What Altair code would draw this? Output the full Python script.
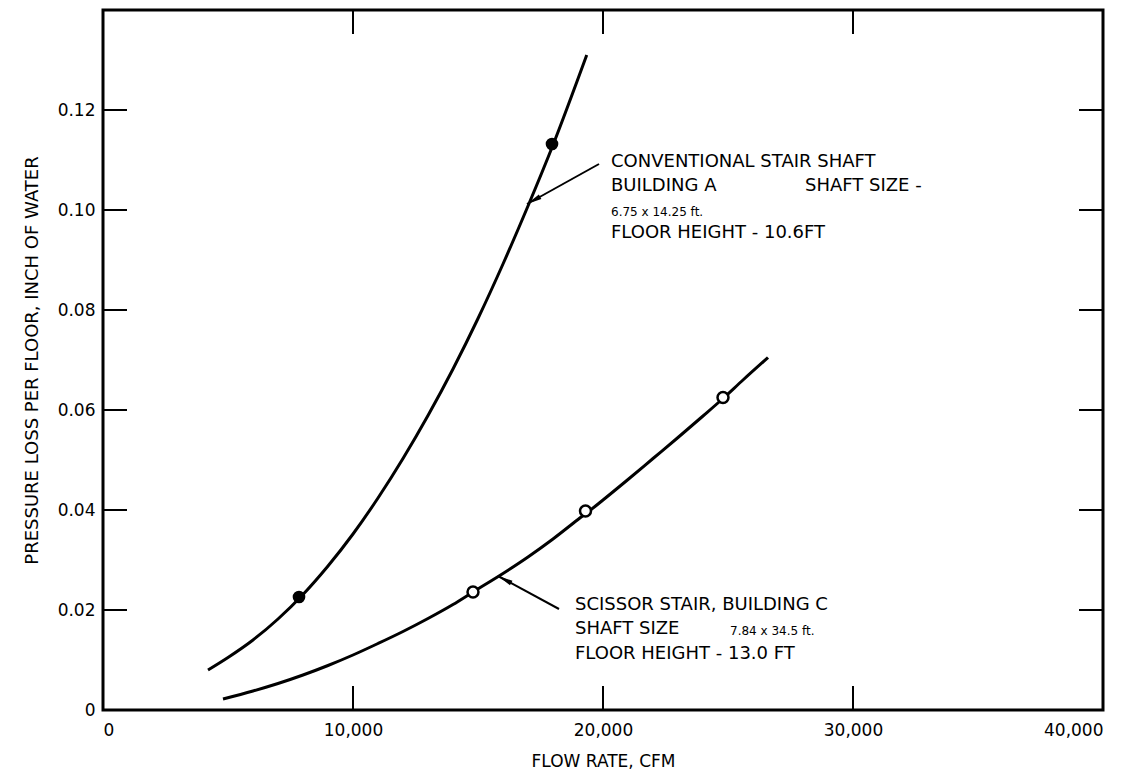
import altair as alt
import pandas as pd

# ---------------- data ----------------
# Conventional stair shaft, building A (curve)
conv_x = [4200, 5000, 6000, 7000, 8000, 9000, 10000, 11000, 12000, 13000,
          14000, 15000, 16000, 17000, 18000, 19350]
conv_y = [0.0080, 0.0105, 0.0140, 0.0182, 0.0231, 0.0288, 0.0352, 0.0424,
          0.0503, 0.0589, 0.0682, 0.0783, 0.0892, 0.1008, 0.1130, 0.1310]
# Conventional measured points (filled)
conv_pts_x = [7840, 17960]
conv_pts_y = [0.0226, 0.1132]

# Scissor stair, building C (curve)
sc_x = [4800, 6000, 7000, 8000, 9000, 10000, 11000, 12000, 13000, 14000,
        14800, 16000, 17000, 18000, 19000, 19500, 20000, 21000, 22000,
        23000, 24000, 24800, 25600, 26600]
sc_y = [0.0022, 0.0038, 0.0053, 0.0070, 0.0089, 0.0110, 0.0133, 0.0157,
        0.0183, 0.0211, 0.0236, 0.0273, 0.0306, 0.0342, 0.0381, 0.0400,
        0.0420, 0.0461, 0.0503, 0.0545, 0.0588, 0.0623, 0.0660, 0.0705]
# Scissor measured points (open)
sc_pts_x = [14800, 19300, 24800]
sc_pts_y = [0.0236, 0.0398, 0.0625]

# Axis ticks
x_ticks = [0, 10000, 20000, 30000, 40000]
y_ticks = [0, 0.02, 0.04, 0.06, 0.08, 0.10, 0.12]

# Annotation texts (anchor in data units)
ann_text = ["CONVENTIONAL STAIR SHAFT", "BUILDING A", "SHAFT SIZE -",
            "6.75 x 14.25 ft.", "FLOOR HEIGHT - 10.6FT",
            "SCISSOR STAIR, BUILDING C", "SHAFT SIZE", "7.84 x 34.5 ft.",
            "FLOOR HEIGHT - 13.0 FT"]
ann_x = [20320, 20320, 28080, 20320, 20320, 18880, 18880, 25080, 18880]
ann_y = [0.1096, 0.1048, 0.1048, 0.0996, 0.0954, 0.0210, 0.0162, 0.0158, 0.0112]
ann_small = [False, False, False, True, False, False, False, True, False]

# Leader arrows (from text to curve)
arr_x = [19840, 18240]
arr_y = [0.1092, 0.0202]
arr_x2 = [16960, 15800]
arr_y2 = [0.1012, 0.0268]

# ---------------- styles ----------------
FONT = "DejaVu Sans"
BIG = 18
SMALL = 12
arrow_angles = [241, 298]
TICK_X = 960      # tick length in x units (24 px)
TICK_Y = 0.0048   # tick length in y units (24 px)

xs = alt.Scale(domain=[0, 40000], nice=False, zero=False)
ys = alt.Scale(domain=[0, 0.14], nice=False, zero=False)

x_axis = alt.Axis(
    values=x_ticks, format=",d", title="FLOW RATE, CFM",
    domain=False, ticks=False, grid=False,
    labelFont=FONT, labelFontSize=17, labelPadding=12, labelColor="black",
    titleFont=FONT, titleFontSize=17, titleFontWeight="normal", titleColor="black",
    titleX=500, titleY=51, titleBaseline="middle", titleAlign="center")
y_axis = alt.Axis(
    values=y_ticks, labelExpr="datum.value == 0 ? '0' : format(datum.value, '.2f')",
    title="PRESSURE LOSS PER FLOOR, INCH OF WATER",
    domain=False, ticks=False, grid=False,
    labelFont=FONT, labelFontSize=17, labelPadding=8, labelColor="black",
    titleFont=FONT, titleFontSize=18, titleFontWeight="normal", titleColor="black",
    titleX=-71, titleY=350, titleAngle=-90, titleBaseline="middle", titleAlign="center")


def X(field):
    return alt.X(field, scale=xs, axis=x_axis, title="FLOW RATE, CFM")


def Y(field):
    return alt.Y(field, scale=ys, axis=y_axis,
                 title="PRESSURE LOSS PER FLOOR, INCH OF WATER")


curves = pd.concat([
    pd.DataFrame({"x": conv_x, "y": conv_y, "series": "conv"}),
    pd.DataFrame({"x": sc_x, "y": sc_y, "series": "scissor"}),
])

lines = alt.Chart(curves).mark_line(
    color="black", strokeWidth=3, interpolate="monotone"
).encode(x=X("x:Q"), y=Y("y:Q"), detail="series:N")

filled = alt.Chart(pd.DataFrame({"x": conv_pts_x, "y": conv_pts_y})).mark_point(
    shape="circle", filled=True, color="black", size=160, opacity=1
).encode(x=X("x:Q"), y=Y("y:Q"))

opened = alt.Chart(pd.DataFrame({"x": sc_pts_x, "y": sc_pts_y})).mark_point(
    shape="circle", filled=False, fill="white", stroke="black", strokeWidth=2.5,
    size=120, opacity=1, fillOpacity=1
).encode(x=X("x:Q"), y=Y("y:Q"))

# inward tick marks on all four sides
tick_rows = []
for v in y_ticks[1:]:
    tick_rows.append({"x": 0, "x2": TICK_X, "y": v, "y2": v})
    tick_rows.append({"x": 40000, "x2": 40000 - TICK_X, "y": v, "y2": v})
for v in x_ticks[1:-1]:
    tick_rows.append({"x": v, "x2": v, "y": 0, "y2": TICK_Y})
    tick_rows.append({"x": v, "x2": v, "y": 0.14, "y2": 0.14 - TICK_Y})
ticks = alt.Chart(pd.DataFrame(tick_rows)).mark_rule(color="black", strokeWidth=2).encode(
    x=X("x:Q"), x2="x2:Q", y=Y("y:Q"), y2="y2:Q",
)

arrows_df = pd.DataFrame({"x": arr_x, "y": arr_y, "x2": arr_x2, "y2": arr_y2,
                          "angle": arrow_angles})
arrow_lines = alt.Chart(arrows_df).mark_rule(color="black", strokeWidth=2).encode(
    x=X("x:Q"), x2="x2:Q", y=Y("y:Q"), y2="y2:Q",
)
arrow_heads = alt.Chart(arrows_df).mark_point(
    shape="M0,0L0.35,2L-0.35,2Z", filled=True, color="black", size=225, opacity=1
).encode(
    x=X("x2:Q"), y=Y("y2:Q"),
    angle=alt.Angle("angle:Q", scale=None),
)

ann_df = pd.DataFrame({"x": ann_x, "y": ann_y, "text": ann_text,
                       "fs": [SMALL if s else BIG for s in ann_small]})
texts = alt.Chart(ann_df).mark_text(
    align="left", baseline="middle", font=FONT, color="black"
).encode(
    x=X("x:Q"), y=Y("y:Q"),
    text="text:N", size=alt.Size("fs:Q", scale=None),
)

chart = alt.layer(lines, ticks, arrow_lines, arrow_heads, filled, opened, texts).properties(
    width=1000, height=700,
    padding={"left": 95, "top": 2, "right": 37, "bottom": 62},
    autosize=alt.AutoSizeParams(type="none"),
    background="white",
).configure_view(stroke="black", strokeWidth=3)

chart.save("out.html", embed_options={"renderer": "svg", "actions": False})
